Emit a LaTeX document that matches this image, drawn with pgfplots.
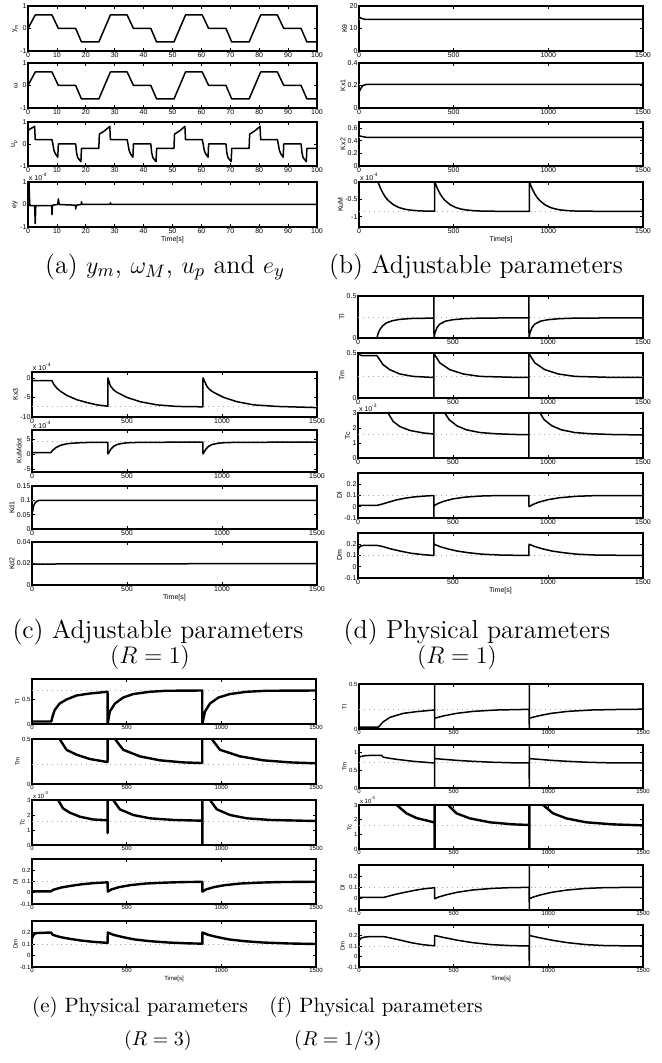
\documentclass[border=0pt]{standalone}
\usepackage{fontspec}
\usepackage{pgfplots}
\pgfplotsset{compat=1.18}
\newfontfamily\arialf{Liberation Sans}
\newcommand{\tl}{\arialf\fontsize{3.5}{4.2}\selectfont}
\newcommand{\tls}{\arialf\fontsize{3}{3.6}\selectfont}
\newcommand{\capa}{\fontsize{13}{15}\selectfont}
\newcommand{\cape}{\fontsize{10.4}{12}\selectfont}
\pgfplotsset{
  base/.style={scale only axis, anchor=south west, clip mode=individual,
    axis line style={line width=0.85pt}, tick align=inside,
    major tick length=1.5pt, tick style={black, line width=0.35pt},
    tick label style={font=\tl, inner sep=0.6pt},
    ylabel style={font=\tl, inner sep=0.4pt}, xlabel style={font=\tl, inner sep=0.8pt},
    /pgf/number format/assume math mode=true, /pgf/number format/1000 sep={},
    scaled ticks=false},
  small/.style={tick label style={font=\tls}, ylabel style={font=\tls}, xlabel style={font=\tls}},
  long/.style={base, xmin=0, xmax=1500, xtick={0,500,1000,1500}},
  cur/.style={black, line width=0.75pt, line join=round},
  thk/.style={black, line width=1.2pt, line join=round},
  ref/.style={gray!65, dotted, line width=0.45pt},
}
\newcommand{\scalelab}[1]{\node[font=\tl, anchor=south west, inner sep=0.3pt] at (rel axis cs:0,1) {x 10\textsuperscript{#1}};}
\newcommand{\scalelabs}[1]{\node[font=\tls, anchor=south west, inner sep=0.3pt] at (rel axis cs:0,1) {x 10\textsuperscript{#1}};}
\begin{document}
\begin{tikzpicture}
\path[use as bounding box] (0,0) rectangle (331pt,-531.5pt);

% ---------------- (a) y_m, omega_M, u_p, e_y ----------------
\pgfplotsset{ashort/.style={base, xmin=0, xmax=100, xtick={0,10,...,100}, ymin=-1, ymax=1, ytick={-1,0,1}, width=144.5pt, height=22.5pt}}
\begin{axis}[ashort, at={(14pt,-25.5pt)}, ylabel={y\textsubscript{m}}]
\addplot[cur] coordinates {(0,0)(2.5,0.6)(8.3,0.6)(10.5,0)(16.5,0)(18.5,-0.6)(24.5,-0.6)(28.5,0.6)(34.3,0.6)(36.5,0)(42.5,0)(44.5,-0.6)(50.5,-0.6)(54.5,0.6)(60.3,0.6)(62.5,0)(68.5,0)(70.5,-0.6)(76.5,-0.6)(80.5,0.6)(86.3,0.6)(88.5,0)(94.5,0)(96.5,-0.6)(100,-0.6)};
\end{axis}
\begin{axis}[ashort, at={(14pt,-54pt)}, ylabel={ω}]
\addplot[cur] coordinates {(0,0)(2.5,0.6)(8.3,0.6)(10.5,0)(16.5,0)(18.5,-0.6)(24.5,-0.6)(28.5,0.6)(34.3,0.6)(36.5,0)(42.5,0)(44.5,-0.6)(50.5,-0.6)(54.5,0.6)(60.3,0.6)(62.5,0)(68.5,0)(70.5,-0.6)(76.5,-0.6)(80.5,0.6)(86.3,0.6)(88.5,0)(94.5,0)(96.5,-0.6)(100,-0.6)};
\end{axis}
\begin{axis}[ashort, at={(14pt,-83pt)}, height=22pt, ylabel={u\textsubscript{p}}]
\addplot[cur] coordinates {(0,0.55)(0.3,0.65)(2.3,0.8)(2.5,0.2)(8.3,0.2)(8.6,0)(9,-0.3)(9.5,-0.45)(10.3,-0.6)(10.5,0)(16.5,0)(16.8,-0.4)(17.2,-0.62)(18.3,-0.8)(18.5,-0.2)(24.5,-0.2)(24.7,0.45)(26.5,0.6)(28.3,0.8)(28.5,0.2)(34.3,0.2)(34.6,0)(35,-0.3)(35.5,-0.45)(36.3,-0.6)(36.5,0)(42.5,0)(42.8,-0.4)(43.2,-0.62)(44.3,-0.8)(44.5,-0.2)(50.5,-0.2)(50.7,0.45)(52.5,0.6)(54.3,0.8)(54.5,0.2)(60.3,0.2)(60.6,0)(61,-0.3)(61.5,-0.45)(62.3,-0.6)(62.5,0)(68.5,0)(68.8,-0.4)(69.2,-0.62)(70.3,-0.8)(70.5,-0.2)(76.5,-0.2)(76.7,0.45)(78.5,0.6)(80.3,0.8)(80.5,0.2)(86.3,0.2)(86.6,0)(87,-0.3)(87.5,-0.45)(88.3,-0.6)(88.5,0)(94.5,0)(94.8,-0.4)(95.2,-0.62)(96.3,-0.8)(96.5,-0.2)(100,-0.2)};
\end{axis}
\begin{axis}[ashort, at={(14pt,-113.5pt)}, ylabel={ey}, xlabel={Time[s]}]
\addplot[cur] coordinates {(0,0)(0.3,1.2)(0.6,-0.05)(2.3,-0.05)(2.5,-0.85)(2.7,-0.05)(8.2,-0.05)(8.3,-0.45)(8.5,-0.03)(10.3,0)(10.5,0.25)(10.8,0)(16.4,-0.03)(16.5,-0.2)(16.7,-0.03)(18.4,0)(18.5,0.12)(18.7,0)(28.4,0)(28.5,0.07)(28.7,0)(100,0)};
\scalelab{-4}
\end{axis}

% ---------------- (b) adjustable parameters ----------------
\pgfplotsset{bset/.style={long, width=142pt, height=22.5pt}}
\begin{axis}[bset, at={(179.5pt,-25.5pt)}, ymin=0, ymax=20, ytick={0,10,20}, ylabel={Kθ}]
\addplot[ref] coordinates {(0,14)(1500,14)};
\addplot[cur] coordinates {(0,15.2)(10,14.6)(30,14.1)(60,14)(1500,14)};
\end{axis}
\begin{axis}[bset, at={(179.5pt,-54pt)}, ymin=0, ymax=0.4, ytick={0,0.2,0.4}, ylabel={Kx1}]
\addplot[ref] coordinates {(0,0.21)(1500,0.21)};
\addplot[cur] coordinates {(0,0.2)(3,0.15)(8,0.17)(20,0.2)(40,0.21)(1500,0.21)};
\end{axis}
\begin{axis}[bset, at={(179.5pt,-83pt)}, height=22pt, ymin=0, ymax=0.7, ytick={0,0.2,0.4,0.6}, ylabel={Kx2}]
\addplot[ref] coordinates {(0,0.455)(1500,0.455)};
\addplot[cur] coordinates {(0,0.48)(15,0.47)(40,0.455)(1500,0.455)};
\end{axis}
\begin{axis}[bset, at={(179.5pt,-113.5pt)}, ymin=-1.3, ymax=0, ytick={-1,-0.5,0}, ylabel={KuM}, xlabel={Time[s]}]
\addplot[ref] coordinates {(0,-0.85)(1500,-0.85)};
\addplot[cur] coordinates {(0,0)(100,0)(114,-0.188)(127.5,-0.334)(141,-0.449)(155,-0.537)(182.5,-0.66)(210,-0.735)(237.5,-0.78)(265,-0.808)(320,-0.835)(375,-0.844)(399.5,-0.845)
 (400,0)(414,-0.188)(427.5,-0.334)(441,-0.449)(455,-0.537)(482.5,-0.66)(510,-0.735)(537.5,-0.78)(565,-0.808)(620,-0.835)(675,-0.844)(899.5,-0.85)
 (900,0)(914,-0.188)(927.5,-0.334)(941,-0.449)(955,-0.537)(982.5,-0.66)(1010,-0.735)(1037.5,-0.78)(1065,-0.808)(1120,-0.835)(1175,-0.844)(1500,-0.85)};
\scalelab{-4}
\end{axis}

% ---------------- (c) adjustable parameters (R = 1) ----------------
\pgfplotsset{cset/.style={long, width=142.5pt}}
\begin{axis}[cset, at={(16pt,-208.5pt)}, height=22.5pt, ymin=-10, ymax=1.5, ytick={-10,-5,0}, ylabel={Kx3}]
\addplot[ref] coordinates {(0,-7.35)(1500,-7.35)};
\addplot[cur] coordinates {(0,-0.7)(105,-0.7)(114,-1.6)(130,-2.6)(149,-3.4)(184,-4.5)(237,-5.6)(289,-6.3)(342,-6.9)(399.5,-7.25)
 (400,0)(412,-2.0)(430,-3.1)(447,-3.7)(500,-5.0)(570,-6.1)(658,-6.9)(763,-7.3)(899.5,-7.4)
 (900,0)(921,-2.2)(935,-3.0)(956,-3.7)(1009,-5.0)(1079,-6.1)(1167,-6.9)(1290,-7.3)(1500,-7.6)};
\scalelab{-4}
\end{axis}
\begin{axis}[cset, at={(16pt,-236pt)}, height=21pt, ymin=-6, ymax=8, ytick={-5,0,5}, ylabel={KuMdot}]
\addplot[ref] coordinates {(0,4.05)(1500,4.05)};
\addplot[cur] coordinates {(0,0.5)(100,0.5)(110,1.3)(125,2.1)(150,2.9)(175,3.3)(200,3.55)(250,3.75)(300,3.85)(399.5,3.9)
 (400,0)(405,0.5)(415,1.6)(430,2.6)(450,3.2)(480,3.6)(520,3.8)(600,3.9)(899.5,3.95)
 (900,0)(905,0.5)(915,1.6)(930,2.6)(950,3.2)(980,3.6)(1020,3.8)(1100,3.9)(1500,3.95)};
\scalelab{-4}
\end{axis}
\begin{axis}[cset, at={(16pt,-264.5pt)}, height=21.5pt, ymin=0, ymax=0.15, ytick={0,0.05,0.1,0.15}, ylabel={Kd1},
  yticklabel style={/pgf/number format/fixed}]
\addplot[ref] coordinates {(0,0.1)(1500,0.1)};
\addplot[cur] coordinates {(0,0.065)(3,0.06)(8,0.08)(15,0.09)(25,0.097)(40,0.1)(1500,0.1)};
\end{axis}
\begin{axis}[cset, at={(16pt,-292.5pt)}, height=21.5pt, ymin=0, ymax=0.04, ytick={0,0.02,0.04}, ylabel={Kd2}, xlabel={Time[s]},
  yticklabel style={/pgf/number format/fixed}]
\addplot[ref] coordinates {(0,0.02)(1500,0.02)};
\addplot[cur] coordinates {(0,0.0195)(1500,0.02)};
\end{axis}

% ---------------- (d) physical parameters (R = 1) ----------------
\pgfplotsset{dset/.style={long, width=142.5pt, height=22.5pt}}
\begin{axis}[dset, at={(179pt,-169pt)}, height=21pt, ymin=0, ymax=0.5, ytick={0,0.5}, ylabel={Tl}]
\addplot[ref] coordinates {(0,0.245)(1500,0.245)};
\addplot[cur] coordinates {(0,0)(100,0)(105,0.05)(115,0.1)(130,0.145)(150,0.18)(180,0.205)(220,0.222)(280,0.232)(399,0.237)(399.5,0.6)(400,0)
 (405,0.06)(415,0.12)(430,0.165)(460,0.2)(500,0.218)(560,0.23)(650,0.237)(899,0.24)(899.5,0.6)(900,0)
 (905,0.06)(915,0.12)(930,0.165)(960,0.2)(1000,0.218)(1060,0.23)(1150,0.237)(1500,0.24)};
\end{axis}
\begin{axis}[dset, at={(179pt,-199pt)}, ymin=0, ymax=0.5, ytick={0,0.5}, ylabel={Tm}]
\addplot[ref] coordinates {(0,0.235)(1500,0.235)};
\addplot[cur] coordinates {(0,0.49)(20,0.47)(100,0.47)(132,0.37)(167,0.315)(220,0.267)(290,0.24)(378,0.23)(399,0.23)(399.5,0)(400,0.6)(400.5,0.49)
 (431,0.39)(483,0.315)(554,0.267)(642,0.24)(817,0.23)(899,0.228)(899.5,0)(900,0.6)(900.5,0.49)
 (931,0.39)(983,0.315)(1054,0.267)(1142,0.24)(1317,0.23)(1500,0.228)};
\end{axis}
\begin{axis}[dset, at={(179pt,-229pt)}, ymin=0, ymax=3, ytick={0,1,2,3}, ylabel={Tc}]
\addplot[ref] coordinates {(0,1.6)(1500,1.6)};
\addplot[cur] coordinates {(0,5)(100,5)(130,3.8)(158,3)(185,2.44)(220,2.1)(272,1.84)(343,1.67)(399,1.6)(399.5,0)(400,6)
 (430,3.9)(457,3)(480,2.55)(520,2.15)(570,1.88)(640,1.7)(720,1.62)(820,1.57)(899,1.55)(899.5,0)(900,6)
 (940,3.9)(958,3)(980,2.55)(1020,2.15)(1070,1.88)(1140,1.7)(1220,1.62)(1350,1.56)(1500,1.54)};
\scalelab{-3}
\end{axis}
\begin{axis}[dset, at={(179pt,-259pt)}, ymin=-0.1, ymax=0.3, ytick={-0.1,0,0.1,0.2}, ylabel={Dl}]
\addplot[ref] coordinates {(0,0.1)(1500,0.1)};
\addplot[cur] coordinates {(0,0.012)(100,0.012)(130,0.025)(160,0.04)(200,0.06)(250,0.077)(300,0.088)(350,0.095)(399,0.1)(399.5,-0.12)(400,0.01)
 (420,0.028)(450,0.048)(500,0.07)(560,0.085)(640,0.095)(750,0.1)(899.5,0.1)(900,0)
 (920,0.02)(950,0.04)(1000,0.063)(1060,0.08)(1150,0.093)(1250,0.099)(1500,0.1)};
\end{axis}
\begin{axis}[dset, at={(179pt,-289pt)}, ymin=-0.1, ymax=0.3, ytick={-0.1,0,0.1,0.2}, ylabel={Dm}, xlabel={Time[s]}]
\addplot[ref] coordinates {(0,0.1)(1500,0.1)};
\addplot[cur] coordinates {(0,0.15)(5,0.17)(15,0.185)(30,0.19)(100,0.19)(130,0.18)(170,0.16)(220,0.14)(280,0.12)(340,0.108)(399,0.1)(399.5,0.35)(400,0.2)
 (430,0.18)(470,0.16)(520,0.14)(580,0.125)(650,0.112)(750,0.104)(899.5,0.1)(900,0.2)
 (930,0.18)(970,0.16)(1020,0.14)(1080,0.125)(1150,0.112)(1250,0.104)(1500,0.1)};
\end{axis}

% ---------------- (e) physical parameters (R = 3) ----------------
\pgfplotsset{eset/.style={long, small, width=142pt, height=22.5pt}}
\begin{axis}[eset, at={(16pt,-362pt)}, ymin=0, ymax=0.9, ytick={0,0.5}, ylabel={Tl}]
\addplot[ref] coordinates {(0,0.68)(1500,0.68)};
\addplot[thk] coordinates {(0,0.05)(102,0.05)(110,0.17)(120,0.28)(146,0.41)(182,0.49)(235,0.57)(305,0.61)(399,0.645)(399.5,0)
 (411,0.25)(438,0.41)(482,0.53)(535,0.6)(623,0.645)(711,0.665)(899,0.67)(899.5,0)
 (914,0.25)(940,0.41)(985,0.53)(1046,0.6)(1134,0.645)(1240,0.665)(1500,0.67)};
\end{axis}
\begin{axis}[eset, at={(16pt,-392pt)}, ymin=0, ymax=0.5, ytick={0,0.5}, ylabel={Tm}]
\addplot[ref] coordinates {(0,0.215)(1500,0.215)};
\addplot[thk] coordinates {(0,0.8)(100,0.8)(146,0.5)(182,0.38)(235,0.326)(305,0.278)(399,0.244)(400,0.8)
 (438,0.5)(482,0.38)(570,0.307)(676,0.263)(799,0.24)(899,0.233)(900,0.8)
 (949,0.5)(993,0.38)(1099,0.307)(1222,0.263)(1364,0.24)(1500,0.23)};
\end{axis}
\begin{axis}[eset, at={(16pt,-422.5pt)}, ymin=0, ymax=3, ytick={0,1,2,3}, ylabel={Tc}]
\addplot[ref] coordinates {(0,1.6)(1500,1.6)};
\addplot[thk] coordinates {(0,5)(100,5)(120,3.8)(138,3)(164,2.44)(199,2.16)(252,1.89)(323,1.7)(399,1.65)(399.5,0.8)(400,6)
 (429,3)(464,2.38)(535,2.0)(623,1.78)(747,1.67)(899,1.62)(899.5,0)(900,6)
 (940,3)(976,2.38)(1046,2.0)(1134,1.78)(1258,1.67)(1500,1.6)};
\scalelabs{-3}
\end{axis}
\begin{axis}[eset, at={(16pt,-452pt)}, ymin=-0.1, ymax=0.3, ytick={-0.1,0,0.1,0.2}, ylabel={Dl}]
\addplot[ref] coordinates {(0,0.1)(1500,0.1)};
\addplot[thk] coordinates {(0,0.012)(100,0.012)(110,0.025)(150,0.045)(200,0.06)(260,0.075)(320,0.085)(399.5,0.093)(400,0.01)
 (420,0.03)(460,0.05)(520,0.068)(600,0.082)(700,0.09)(800,0.095)(899.5,0.097)(900,0.01)
 (920,0.03)(960,0.05)(1020,0.068)(1100,0.082)(1200,0.09)(1300,0.095)(1500,0.098)};
\end{axis}
\begin{axis}[eset, at={(16pt,-483.5pt)}, height=23pt, ymin=-0.1, ymax=0.3, ytick={-0.1,0,0.1,0.2}, ylabel={Dm}, xlabel={Time[s]}]
\addplot[ref] coordinates {(0,0.1)(1500,0.1)};
\addplot[thk] coordinates {(0,0.15)(8,0.18)(20,0.195)(100,0.2)(110,0.18)(150,0.16)(200,0.145)(260,0.13)(330,0.118)(399.5,0.11)(400,0.2)
 (430,0.18)(480,0.16)(540,0.14)(620,0.125)(720,0.113)(820,0.106)(899.5,0.103)(900,0.2)
 (930,0.18)(980,0.16)(1040,0.14)(1120,0.125)(1220,0.113)(1350,0.105)(1500,0.1)};
\end{axis}

% ---------------- (f) physical parameters (R = 1/3) ----------------
\pgfplotsset{fset/.style={long, small, width=142pt, height=22.5pt}}
\begin{axis}[fset, at={(179.5pt,-364.5pt)}, ymin=0, ymax=0.5, ytick={0,0.5}, ylabel={Tl}]
\addplot[ref] coordinates {(0,0.22)(1500,0.22)};
\addplot[cur] coordinates {(0,0.02)(102,0.02)(128,0.08)(164,0.13)(234,0.174)(304,0.193)(392,0.21)(399,0.21)(399.3,-0.1)(399.7,0.6)(400,0.12)
 (445,0.145)(515,0.174)(603,0.196)(726,0.211)(885,0.218)(899,0.218)(899.3,-0.1)(899.7,0.6)(900,0.12)
 (945,0.145)(1015,0.174)(1103,0.196)(1226,0.211)(1385,0.218)(1500,0.22)};
\end{axis}
\begin{axis}[fset, at={(179.5pt,-394pt)}, height=21.5pt, ymin=0, ymax=1.2, ytick={0,0.5,1}, ylabel={Tm}]
\addplot[ref] coordinates {(0,0.7)(1500,0.7)};
\addplot[cur] coordinates {(0,0.85)(10,0.88)(30,0.9)(60,0.91)(120,0.91)(128,0.86)(160,0.83)(199,0.8)(286,0.745)(392,0.7)(399,0.7)(399.3,-0.1)(399.7,1.3)(400,0.82)
 (450,0.8)(520,0.77)(600,0.745)(700,0.72)(800,0.705)(899,0.7)(899.3,-0.1)(899.7,1.3)(900,0.82)
 (950,0.8)(1020,0.77)(1100,0.745)(1200,0.72)(1300,0.705)(1500,0.7)};
\end{axis}
\begin{axis}[fset, at={(179.5pt,-424.5pt)}, height=22pt, ymin=0, ymax=3, ytick={0,1,2,3}, ylabel={Tc}]
\addplot[ref] coordinates {(0,1.6)(1500,1.6)};
\addplot[thk] coordinates {(0,6)(100,6)(150,4)(199,3)(251,2.43)(304,2.11)(374,1.89)(399,1.8)(399.5,0)(400,6)
 (471,3)(515,2.43)(585,2.09)(691,1.82)(814,1.68)(899,1.64)(899.5,0)(900,6)
 (972,3)(1025,2.43)(1095,2.09)(1200,1.82)(1341,1.68)(1500,1.61)};
\scalelabs{-3}
\end{axis}
\begin{axis}[fset, at={(179.5pt,-455pt)}, ymin=-0.1, ymax=0.3, ytick={-0.1,0,0.1,0.2}, ylabel={Dl}]
\addplot[ref] coordinates {(0,0.1)(1500,0.1)};
\addplot[cur] coordinates {(0,0.012)(130,0.012)(160,0.025)(200,0.042)(250,0.06)(300,0.077)(350,0.09)(399.5,0.098)(400,0)
 (420,0.015)(460,0.035)(520,0.058)(600,0.078)(700,0.092)(800,0.099)(899,0.101)(899.3,-0.15)(899.7,0.35)(900,0)
 (920,0.015)(960,0.035)(1020,0.058)(1100,0.078)(1200,0.092)(1300,0.099)(1500,0.102)};
\end{axis}
\begin{axis}[fset, at={(179.5pt,-483.5pt)}, height=21pt, ymin=-0.1, ymax=0.3, ytick={-0.1,0,0.1,0.2}, ylabel={Dm}, xlabel={Time[s]}]
\addplot[ref] coordinates {(0,0.1)(1500,0.1)};
\addplot[cur] coordinates {(0,0.15)(10,0.175)(30,0.185)(60,0.19)(130,0.19)(170,0.175)(220,0.155)(280,0.13)(340,0.112)(399.5,0.102)(400,0.2)
 (450,0.18)(520,0.155)(600,0.132)(700,0.113)(800,0.104)(899,0.1)(899.3,-0.15)(899.7,0.35)(900,0.2)
 (950,0.18)(1020,0.155)(1100,0.132)(1200,0.113)(1300,0.104)(1500,0.1)};
\end{axis}

% ---------------- captions ----------------
\node[font=\capa] at (82.5pt,-133.5pt) {(a) $y_m$, $\omega_M$, $u_p$ and $e_y$};
\node[font=\capa] at (238pt,-133.5pt) {(b) Adjustable parameters};
\node[font=\capa] at (79pt,-316pt) {(c) Adjustable parameters};
\node[font=\capa] at (75pt,-328.5pt) {$(R=1)$};
\node[font=\capa] at (238.5pt,-316pt) {(d) Physical parameters};
\node[font=\capa] at (228.5pt,-328.5pt) {$(R=1)$};
\node[font=\cape] at (70pt,-503.5pt) {(e) Physical parameters};
\node[font=\cape] at (79pt,-520pt) {$(R=3)$};
\node[font=\cape] at (188pt,-503.5pt) {(f) Physical parameters};
\node[font=\cape] at (169pt,-520pt) {$(R=1/3)$};
\end{tikzpicture}
\end{document}
